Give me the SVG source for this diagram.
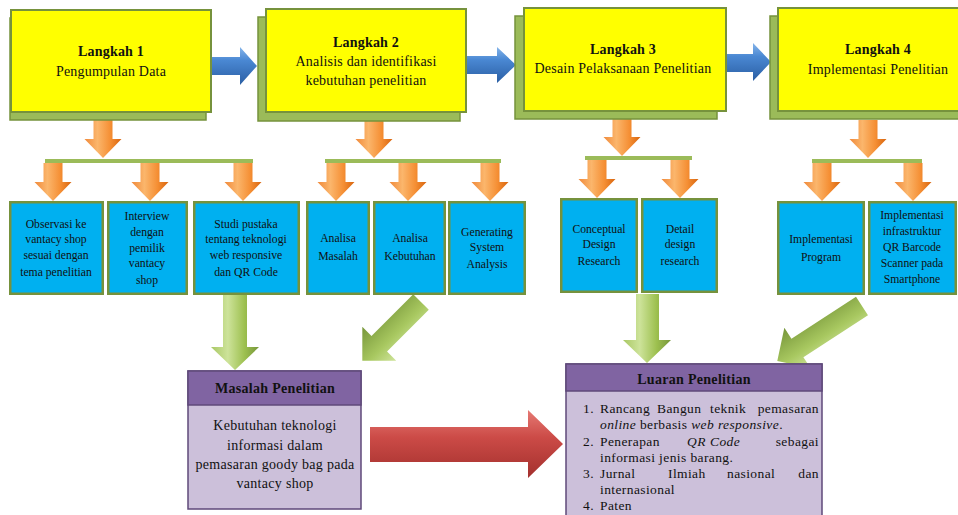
<svg xmlns="http://www.w3.org/2000/svg" width="958" height="515" viewBox="0 0 958 515">
<defs>
<linearGradient id="gBlue" x1="0" y1="0" x2="0" y2="1">
<stop offset="0" stop-color="#86b5ea"/><stop offset="0.35" stop-color="#4a88d3"/><stop offset="1" stop-color="#2a5ea3"/>
</linearGradient>
<linearGradient id="gOrange" x1="0" y1="0" x2="1" y2="0">
<stop offset="0" stop-color="#f0893a"/><stop offset="0.35" stop-color="#fbb66c"/><stop offset="0.7" stop-color="#f58f34"/><stop offset="1" stop-color="#d8650e"/>
</linearGradient>
<linearGradient id="gGreen" x1="0" y1="0" x2="1" y2="0">
<stop offset="0" stop-color="#a9c864"/><stop offset="0.35" stop-color="#cde39a"/><stop offset="0.7" stop-color="#9dc04f"/><stop offset="1" stop-color="#76963a"/>
</linearGradient>
<linearGradient id="gGreenD" x1="0" y1="0" x2="0" y2="1">
<stop offset="0" stop-color="#cfe49c"/><stop offset="0.4" stop-color="#a8c860"/><stop offset="1" stop-color="#77963a"/>
</linearGradient>
<linearGradient id="gRed" x1="0" y1="0" x2="0" y2="1">
<stop offset="0" stop-color="#e67a74"/><stop offset="0.4" stop-color="#cc4b47"/><stop offset="1" stop-color="#a3302d"/>
</linearGradient>
<path id="oa" d="M-9.5,0 H9.5 V19 H18.5 L0,38 L-18.5,19 H-9.5 Z"/>
<style>
.yel{fill:#ffff00;stroke:#76923c;stroke-width:2}
.shd{fill:#9bbb59;stroke:#76923c;stroke-width:1.5}
.blu{fill:#00b0f0;stroke:#76923c;stroke-width:2.5}
.bar{fill:#9bbb59}
.t{font-family:"Liberation Serif","Times New Roman",serif;fill:#111;text-anchor:middle}
.h{font-size:14px;letter-spacing:0.2px}
.b{font-weight:bold}
.s{font-size:11.7px}
.m{font-size:14px;letter-spacing:0.3px}
.l{font-size:13.5px;letter-spacing:0.4px;text-anchor:start}
.hd{fill:#8064a2;stroke:#5f497a;stroke-width:1.5}
.bd{fill:#ccc0da;stroke:#5f497a;stroke-width:1.5}
</style>
</defs>

<g id="connectors">
<path fill="url(#gBlue)" d="M212,57 H240 V47 L257,66 L240,85 V75 H212 Z"/>
<path fill="url(#gBlue)" d="M467,56 H497 V47 L516,65 L497,83 V74 H467 Z"/>
<path fill="url(#gBlue)" d="M726,54 H753 V43 L771,62 L753,81 V72 H726 Z"/>
<use href="#oa" fill="url(#gOrange)" transform="translate(103,120)"/>
<use href="#oa" fill="url(#gOrange)" transform="translate(374,120)"/>
<use href="#oa" fill="url(#gOrange)" transform="translate(622,118)"/>
<use href="#oa" fill="url(#gOrange)" transform="translate(868,120)"/>
<rect class="bar" x="45" y="159" width="208" height="4"/>
<rect class="bar" x="325" y="159" width="176" height="4"/>
<rect class="bar" x="585" y="156" width="107" height="4"/>
<rect class="bar" x="812" y="159" width="110" height="4"/>
<use href="#oa" fill="url(#gOrange)" transform="translate(53,163)"/>
<use href="#oa" fill="url(#gOrange)" transform="translate(150,163)"/>
<use href="#oa" fill="url(#gOrange)" transform="translate(243,163)"/>
<use href="#oa" fill="url(#gOrange)" transform="translate(336,163)"/>
<use href="#oa" fill="url(#gOrange)" transform="translate(408,163)"/>
<use href="#oa" fill="url(#gOrange)" transform="translate(490,163)"/>
<use href="#oa" fill="url(#gOrange)" transform="translate(597,160)"/>
<use href="#oa" fill="url(#gOrange)" transform="translate(680,160)"/>
<use href="#oa" fill="url(#gOrange)" transform="translate(822,163)"/>
<use href="#oa" fill="url(#gOrange)" transform="translate(913,163)"/>
<path fill="url(#gGreen)" d="M223,294 H247 V347 H259 L235,370 L211,347 H223 Z"/>
<path fill="url(#gGreen)" d="M636,294 H659 V340 H671 L647,363 L623,340 H636 Z"/>
<path fill="url(#gGreenD)" transform="translate(421,302) rotate(135)" d="M0,-11 H59 V-24 L83,0 L59,24 V11 H0 Z"/>
<path fill="url(#gGreenD)" transform="translate(862,306) rotate(147)" d="M0,-11 H77 V-24 L101,0 L77,24 V11 H0 Z"/>
<path fill="url(#gRed)" d="M370,427 H528 V410 L563,444 L528,478 V462 H370 Z"/>
</g>

<g id="langkah1">
<rect class="shd" x="10" y="18" width="196" height="102"/>
<rect class="yel" x="11" y="10" width="200" height="102"/>
<text class="t h b" x="111" y="56">Langkah 1</text>
<text class="t h" x="111" y="76">Pengumpulan Data</text>
</g>
<g id="langkah2">
<rect class="shd" x="258" y="17" width="202" height="104"/>
<rect class="yel" x="266" y="9" width="200" height="103"/>
<text class="t h b" x="366" y="47">Langkah 2</text>
<text class="t h" x="366" y="66">Analisis dan identifikasi</text>
<text class="t h" x="366" y="85">kebutuhan penelitian</text>
</g>
<g id="langkah3">
<rect class="shd" x="515" y="16" width="202" height="103"/>
<rect class="yel" x="524" y="8" width="202" height="103"/>
<text class="t h b" x="623" y="54">Langkah 3</text>
<text class="t h" x="623" y="73">Desain Pelaksanaan Penelitian</text>
</g>
<g id="langkah4">
<rect class="shd" x="770" y="16" width="200" height="103"/>
<rect class="yel" x="778" y="8" width="200" height="103"/>
<text class="t h b" x="878" y="54">Langkah 4</text>
<text class="t h" x="878" y="74">Implementasi Penelitian</text>
</g>

<g id="observasi">
<rect class="blu" x="10.25" y="202.25" width="92.5" height="91.5"/>
<text class="t s" x="56" y="228">Observasi ke</text>
<text class="t s" x="56" y="243">vantacy shop</text>
<text class="t s" x="56" y="259">sesuai dengan</text>
<text class="t s" x="56" y="276">tema penelitian</text>
</g>
<g id="interview">
<rect class="blu" x="108.25" y="202.25" width="78.5" height="91.5"/>
<text class="t s" x="147" y="220">Interview</text>
<text class="t s" x="147" y="236">dengan</text>
<text class="t s" x="147" y="252">pemilik</text>
<text class="t s" x="147" y="267">vantacy</text>
<text class="t s" x="147" y="284">shop</text>
</g>
<g id="studi">
<rect class="blu" x="194.25" y="202.25" width="104.5" height="91.5"/>
<text class="t s" x="246" y="228">Studi pustaka</text>
<text class="t s" x="246" y="243">tentang teknologi</text>
<text class="t s" x="246" y="259">web responsive</text>
<text class="t s" x="246" y="276">dan QR Code</text>
</g>
<g id="analisa-masalah">
<rect class="blu" x="307.25" y="202.25" width="61.5" height="91.5"/>
<text class="t s" x="338" y="242">Analisa</text>
<text class="t s" x="338" y="260">Masalah</text>
</g>
<g id="analisa-kebutuhan">
<rect class="blu" x="374.25" y="202.25" width="70.5" height="91.5"/>
<text class="t s" x="410" y="242">Analisa</text>
<text class="t s" x="410" y="260">Kebutuhan</text>
</g>
<g id="generating">
<rect class="blu" x="449.25" y="202.25" width="75.5" height="91.5"/>
<text class="t s" x="487" y="236">Generating</text>
<text class="t s" x="487" y="251">System</text>
<text class="t s" x="487" y="268">Analysis</text>
</g>
<g id="conceptual">
<rect class="blu" x="561.25" y="199.25" width="75.5" height="92.5"/>
<text class="t s" x="599" y="233">Conceptual</text>
<text class="t s" x="599" y="248">Design</text>
<text class="t s" x="599" y="265">Research</text>
</g>
<g id="detail">
<rect class="blu" x="642.25" y="199.25" width="74.5" height="92.5"/>
<text class="t s" x="680" y="233">Detail</text>
<text class="t s" x="680" y="248">design</text>
<text class="t s" x="680" y="265">research</text>
</g>
<g id="implementasi-program">
<rect class="blu" x="778.25" y="202.25" width="85.5" height="91.5"/>
<text class="t s" x="821" y="243">Implementasi</text>
<text class="t s" x="821" y="261">Program</text>
</g>
<g id="implementasi-infra">
<rect class="blu" x="869.25" y="202.25" width="86.5" height="91.5"/>
<text class="t s" x="912" y="219">Implementasi</text>
<text class="t s" x="912" y="235">infrastruktur</text>
<text class="t s" x="912" y="251">QR Barcode</text>
<text class="t s" x="912" y="267">Scanner pada</text>
<text class="t s" x="912" y="283">Smartphone</text>
</g>

<g id="masalah">
<rect class="bd" x="188" y="371" width="173" height="138"/>
<rect class="hd" x="188" y="371" width="173" height="34"/>
<text class="t m b" x="275" y="393">Masalah Penelitian</text>
<text class="t m" x="275" y="430">Kebutuhan teknologi</text>
<text class="t m" x="275" y="450">informasi dalam</text>
<text class="t m" x="275" y="469">pemasaran goody bag pada</text>
<text class="t m" x="275" y="488">vantacy shop</text>
</g>

<g id="luaran">
<rect class="bd" x="566" y="364" width="256" height="160"/>
<rect class="hd" x="566" y="364" width="256" height="27"/>
<text class="t m b" x="694" y="384">Luaran Penelitian</text>
<text class="t l" x="583" y="413">1.</text>
<text class="t l" x="600" y="413">Rancang</text>
<text class="t l" x="657" y="413">Bangun</text>
<text class="t l" x="710" y="413">teknik</text>
<text class="t l" x="819" y="413" style="text-anchor:end">pemasaran</text>
<text class="t l" x="600" y="429"><tspan font-style="italic">online</tspan> berbasis <tspan font-style="italic">web responsive</tspan>.</text>
<text class="t l" x="583" y="446">2.</text>
<text class="t l" x="600" y="446">Penerapan</text>
<text class="t l" x="687" y="446" font-style="italic">QR</text>
<text class="t l" x="710" y="446" font-style="italic">Code</text>
<text class="t l" x="819" y="446" style="text-anchor:end">sebagai</text>
<text class="t l" x="600" y="462">informasi jenis barang.</text>
<text class="t l" x="583" y="478">3.</text>
<text class="t l" x="600" y="478">Jurnal</text>
<text class="t l" x="668" y="478">Ilmiah</text>
<text class="t l" x="727" y="478">nasional</text>
<text class="t l" x="819" y="478" style="text-anchor:end">dan</text>
<text class="t l" x="600" y="494">internasional</text>
<text class="t l" x="583" y="510">4.</text>
<text class="t l" x="600" y="510">Paten</text>
</g>
</svg>
